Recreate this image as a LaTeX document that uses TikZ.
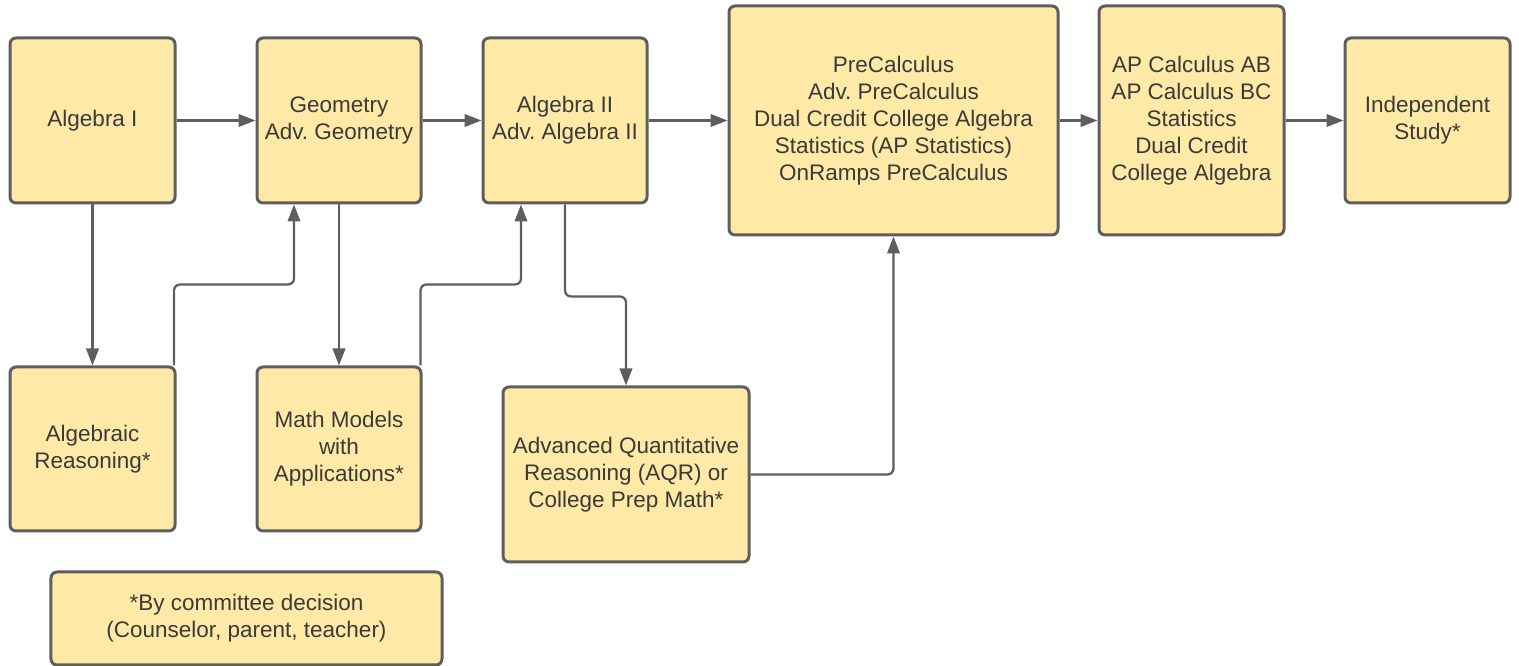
\documentclass[tikz,border=0pt]{standalone}
\usepackage{fontspec}
\setmainfont{Liberation Sans}
\usetikzlibrary{arrows.meta}
\definecolor{boxfill}{HTML}{FFE9A6}
\definecolor{boxline}{HTML}{5E5E5E}
\definecolor{txt}{HTML}{3A3A3A}
\tikzset{
  course/.style={draw=boxline, fill=boxfill, line width=0.06cm, rounded corners=0.12cm,
    align=center, text=txt, inner sep=0pt,
    font=\fontsize{12.8}{15.4}\selectfont\frenchspacing},
  conn/.style={draw=boxline, line width=0.045cm, rounded corners=0.12cm,
    -{Triangle[length=0.34cm,width=0.25cm]}}
}
\frenchspacing
\begin{document}
\begin{tikzpicture}
\useasboundingbox (0,0) rectangle (30.38,-13.32);
\node[course, minimum width=3.3cm, minimum height=3.3cm] (alg1) at (1.85,-2.41) {Algebra I};
\node[course, minimum width=3.28cm, minimum height=3.3cm] (geo) at (6.78,-2.41) {Geometry\\Adv. Geometry};
\node[course, minimum width=3.28cm, minimum height=3.3cm] (alg2) at (11.30,-2.41) {Algebra II\\Adv. Algebra II};
\node[course, minimum width=6.58cm, minimum height=4.58cm] (pre) at (17.87,-2.41) {PreCalculus\\Adv. PreCalculus\\Dual Credit College Algebra\\Statistics (AP Statistics)\\OnRamps PreCalculus};
\node[course, minimum width=3.7cm, minimum height=4.58cm] (ap) at (23.83,-2.41) {AP Calculus AB\\AP Calculus BC\\Statistics\\Dual Credit\\College Algebra};
\node[course, minimum width=3.3cm, minimum height=3.3cm] (ind) at (28.55,-2.41) {Independent\\Study*};
\node[course, minimum width=3.3cm, minimum height=3.28cm] (ar) at (1.85,-8.98) {Algebraic\\Reasoning*};
\node[course, minimum width=3.28cm, minimum height=3.28cm] (mm) at (6.78,-8.98) {Math Models\\with\\Applications*};
\node[course, minimum width=4.92cm, minimum height=3.5cm] (aqr) at (12.52,-9.49) {Advanced Quantitative\\Reasoning (AQR) or\\College Prep Math*};
\node[course, minimum width=7.82cm, minimum height=1.86cm] (com) at (4.93,-12.37) {*By committee decision\\(Counselor, parent, teacher)};

\draw[conn] (alg1.east) -- (geo.west);
\draw[conn] (geo.east) -- (alg2.west);
\draw[conn] (alg2.east) -- (pre.west);
\draw[conn] (pre.east) -- (ap.west);
\draw[conn] (ap.east) -- (ind.west);
\draw[conn] (alg1.south) -- (ar.north);
\draw[conn] (geo.south) -- (mm.north);
\draw[conn] ([xshift=-0.05cm]ar.north east) -- ++(0,1.62) -| ([xshift=-0.9cm]geo.south);
\draw[conn] ([xshift=-0.04cm]mm.north east) -- ++(0,1.62) -| ([xshift=-0.88cm]alg2.south);
\draw[conn] (alg2.south) -- ++(0,-1.84) -| (aqr.north);
\draw[conn] (aqr.east) -| (pre.south);
\end{tikzpicture}
\end{document}
